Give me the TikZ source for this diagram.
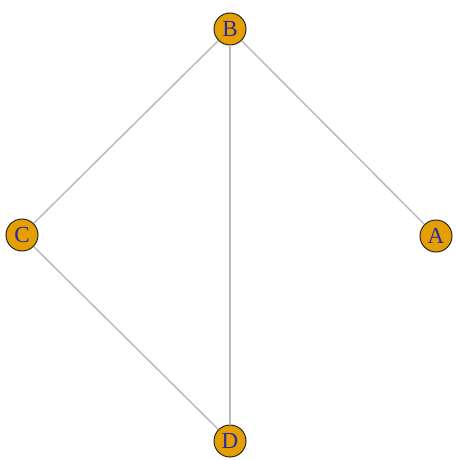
\documentclass[tikz,border=0pt]{standalone}
\usepackage{fontspec}
\setmainfont{Liberation Serif}
\definecolor{vfill}{HTML}{E69F00}
\definecolor{vlabel}{HTML}{2B2BA0}
\definecolor{edgegray}{HTML}{BBBBBB}
\tikzset{
  vertex/.style={circle, draw=black!85, line width=1pt, fill=vfill,
    minimum size=32pt, inner sep=0pt, text=vlabel,
    font=\fontsize{23}{23}\selectfont},
  link/.style={draw=edgegray, line width=1.5pt}
}
\begin{document}
\begin{tikzpicture}[x=1pt,y=-1pt]
  \useasboundingbox (0,0) rectangle (456,460);
  \node[vertex] (B) at (230,29) {B};
  \node[vertex] (C) at (22,235) {C};
  \node[vertex] (A) at (436,236) {A};
  \node[vertex] (D) at (230,441) {D};
  \draw[link] (B) -- (A);
  \draw[link] (B) -- (C);
  \draw[link] (B) -- (D);
  \draw[link] (C) -- (D);
\end{tikzpicture}
\end{document}
